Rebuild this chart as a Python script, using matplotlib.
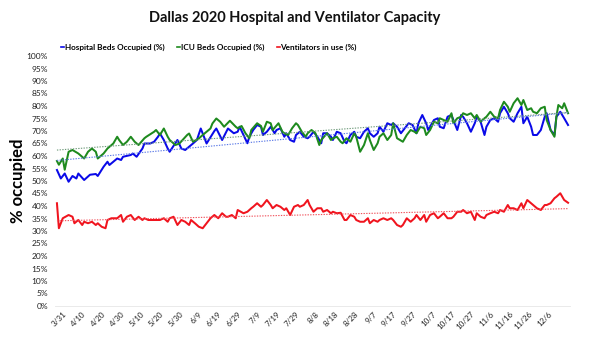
import datetime as dt
import numpy as np
import matplotlib
matplotlib.use("Agg")
import matplotlib.pyplot as plt

plt.rcParams["font.family"] = ["Lato", "DejaVu Sans"]

# ---------------- data ----------------
start_date = dt.date(2020, 3, 28)          # day 0 of the series
tick_first = dt.date(2020, 3, 31)
tick_step_days = 10
n_ticks = 26

title = "Dallas 2020 Hospital and Ventilator Capacity"
y_label = "% occupied"
series_names = ["Hospital Beds Occupied (%)", "ICU Beds Occupied (%)", "Ventilators in use (%)"]

hosp_day = [0, 2, 4, 6, 8, 10, 11, 14, 17, 20, 21, 24, 26, 27, 29, 31, 33, 34, 38, 39,
            41, 44, 45, 48, 50, 52, 53, 55, 57, 58, 62, 64, 66, 70, 72, 74, 75, 77, 81, 82,
            85, 88,
            91, 93, 94, 96, 98, 99, 101, 103, 105, 106, 108, 110, 112, 113, 115, 117, 118, 120, 122, 123,
            125, 127, 129, 130, 132, 134, 136, 137, 139, 141, 142, 144, 146, 148, 149, 151, 153, 154, 156, 158,
            160, 161, 163, 165, 166, 168, 170, 172, 173, 175,
            177, 181, 183, 185, 186, 188, 190, 191, 194, 196, 197, 199, 201, 203, 206, 208, 209, 211, 213, 215,
            216, 218, 220, 221, 223, 225, 227, 228, 230, 232, 233, 235, 237, 239, 240, 242, 244, 245, 247, 249,
            251, 252, 254, 256, 257, 259, 261, 263]
hosp_pct = [54.4, 51, 53, 49.7, 52, 51, 53, 50.4, 52.5, 52.8, 52, 55.7, 57.7, 56.4, 57.7, 59, 58.4, 59.7, 60.4, 61,
            59.7, 63, 65, 65, 65.7, 67.7, 69, 66.4, 63, 61.7, 66.4, 63, 62.4, 65, 66.4, 71, 69, 65, 70, 71,
            66.4, 71,
            69.1, 69.7, 71.7, 68.4, 65.1, 67.7, 70.4, 72.4, 71.7, 68.4, 69.7, 71.7, 69.1, 70.4, 71.1, 67.7, 69.1, 66.4, 65.7, 68.4,
            69.7, 67.7, 67.1, 67.7, 69.7, 67.7, 65.1, 69.1, 69.1, 67.7, 66.4, 69.7, 69.1, 65.7, 65.1, 68.4, 69.7, 67.7, 67.1, 69.7,
            71.1, 69.1, 67.7, 69.1, 71.7, 69.7, 73.1, 72.4, 73.1, 71.7,
            69.1, 73.1, 72.4, 69.1, 73.1, 76.4, 73.1, 70.4, 74.4, 75.1, 71.7, 71.1, 75.7, 76.4, 70.4, 76.4, 75.7, 73.1, 69.7, 73.1,
            75.7, 73.7, 68.4, 71.7, 74.4, 75.1, 73.7, 77.1, 79.7, 77.1, 75.1, 73.7, 77.1, 79.7, 73.1, 75.7, 71.7, 68.4, 68.4, 70.4,
            75.7, 77.1, 70.4, 68.4, 75.7, 77.7, 75.1, 72.4]

icu_day = [0, 1, 3, 4, 6, 8, 11, 14, 16, 18, 20, 21, 24, 26, 29, 31, 32, 34, 36, 38,
           40, 42, 45, 46, 50, 51, 53, 55, 57, 58, 61, 63, 67, 68, 70, 73, 75, 79, 80, 82,
           84, 86,
           89, 92, 93, 95, 97, 99, 100, 103, 105, 106, 108, 110, 111, 114, 116, 117, 119, 121, 123, 124,
           126, 128, 129, 131, 133, 135, 136, 139, 141, 142, 144, 146, 147, 149, 151, 153, 154, 156, 158, 160,
           161, 163, 165, 166, 168, 170, 172, 173, 175,
           178, 180, 182, 184, 185, 187, 189, 190, 192, 194, 196, 197, 199, 201, 203, 204, 206, 208, 209, 211,
           213, 215, 216, 218, 220, 221, 223, 225, 227, 228, 230, 232, 233, 235, 237, 239, 240, 242, 244, 245,
           247, 249, 251, 252, 254, 256, 257, 258, 260, 261, 263]
icu_pct = [58, 56.5, 59, 54.5, 61.7, 62.4, 61, 59, 61.7, 63, 61.7, 59, 61, 63, 65, 67.7, 66.4, 64.4, 65.7, 67.7,
           65.7, 64.4, 67.1, 67.7, 69.7, 70.4, 68.4, 71, 67.7, 66.4, 64.4, 65, 68.4, 69, 65.7, 67, 68.4, 71, 73, 75,
           73.7, 71.7,
           74.1, 71.7, 71.1, 72, 69.1, 67.1, 70.4, 73.1, 72, 69.7, 73.7, 73.1, 70.4, 73.1, 69.7, 69.1, 68.4, 71.1, 73.1, 72.4,
           69.7, 67.7, 69.1, 70.4, 69.1, 64.4, 66.4, 69.1, 66.4, 67.1, 67.7, 65.7, 65.1, 67.1, 65.7, 69.1, 67.7, 61.7, 64.4, 69.1,
           66.4, 62.4, 65.1, 67.7, 69.1, 66.4, 68.4, 73.1, 67.1,
           65.7, 68.4, 70.4, 69.7, 69.1, 71.7, 71.1, 68.4, 70.4, 73.7, 73.1, 75.1, 74.4, 73.7, 77.1, 73.1, 75.1, 75.7, 77.1, 76.4,
           77.1, 75.1, 76.4, 73.7, 75.1, 75.7, 77.7, 75.7, 75.1, 78.4, 81.7, 79.7, 77.7, 81.1, 83.1, 80.4, 82.4, 78.4, 79.1, 77.7,
           77.1, 79.1, 79.7, 74.4, 70.4, 67.7, 75.7, 80.4, 79.1, 81.1, 77.1]

vent_day = [0, 1, 3, 6, 8, 9, 11, 13, 14, 16, 18, 20, 21, 23, 25, 26, 28, 31, 33, 34,
            36, 38, 40, 42, 44, 45, 47, 49, 53, 55, 57, 58, 60, 62, 64, 66, 68, 69, 71, 73,
            75, 77, 79, 81, 83, 85, 87, 88, 90, 92, 93, 96, 98, 100, 101, 103, 105, 106, 108, 110,
            111, 113, 115, 117, 118, 120, 122, 124, 125, 127, 129, 130, 132, 134, 136,
            137, 139, 141, 142, 144, 146, 148, 149, 151, 153, 154, 156, 158, 160, 161, 163, 165, 166, 168, 170,
            172, 173, 175, 177, 178, 180, 182, 184, 185, 187, 189, 190, 192, 194, 196, 197, 199, 201, 203, 204,
            206, 208, 209, 211, 213, 215, 216, 218, 220, 221, 223, 225, 227, 228, 230, 232, 233, 235, 237, 239,
            240, 242, 244, 245, 247, 249, 251, 252, 254, 256, 257, 259, 261, 263]
vent_pct = [41.1, 31.1, 35.1, 36.4, 35.7, 33.1, 34.4, 32.4, 33.7, 33.1, 33.7, 32.4, 33.1, 31.7, 31.1, 34.4, 35.1, 35.1, 36.4, 33.7,
            35.7, 36.4, 34.4, 35.7, 34.4, 35.1, 34.4, 34.4, 34.4, 35.1, 33.7, 35.1, 35.7, 32.4, 34.4, 33.7, 32.4, 34.4, 33.1, 31.7,
            31.1, 33.1, 35.1, 36.4, 35.1, 37.1, 35.7, 35.7, 36.4, 35.1, 38.4, 37.1, 37.7, 39.1, 39.7, 41.1, 39.7, 40.4, 42.4, 40.4,
            39.1, 40.4, 39.7, 38.4, 39.1, 36.4, 39.7, 40.4, 39.7, 40.4, 42.4, 40.4, 37.7, 39.1, 39.1,
            37.7, 38.4, 37.1, 37.7, 37.1, 37.3, 34.4, 34.4, 36.4, 35.7, 34.4, 33.7, 33.7, 35.1, 33.1, 34.4, 33.7, 34.4, 35.1, 34.4,
            35.1, 34.4, 32.4, 31.7, 32.4, 35.1, 33.7, 35.1, 36.4, 34.4, 36.4, 33.7, 36.4, 37.1, 35.1, 35.7, 37.1, 35.1, 35.1, 35.7,
            37.7, 37.7, 38.4, 37.1, 37.7, 34.4, 37.1, 35.7, 35.1, 36.4, 37.1, 37.7, 37.1, 38.4, 37.7, 40.4, 39.1, 39.1, 38.4, 41.1,
            39.1, 42.4, 41.1, 40.4, 39.1, 38.4, 40.4, 40.4, 41.1, 43.1, 43.7, 45.1, 42.4, 41.3]

y_ticks = list(range(0, 101, 5))

# ---------------- style ----------------
line_colors = ["#0A0AE8", "#1E8A1E", "#F0141E"]
trend_colors = ["#5A78E6", "#6E9A7A", "#F0505A"]

fig = plt.figure(figsize=(5.9, 3.4), dpi=100)
ax = fig.add_axes([55 / 590, 1 - 306 / 340, (570 - 55) / 590, (306 - 56) / 340])

series = [(hosp_day, hosp_pct), (icu_day, icu_pct), (vent_day, vent_pct)]
for (d, p), name, c in zip(series, series_names, line_colors):
    ax.plot(d, p, color=c, lw=1.45, label=name, solid_joinstyle="round", zorder=3)

for (d, p), c in zip(series, trend_colors):
    d = np.asarray(d, float)
    k, b = np.polyfit(d, np.asarray(p, float), 1)
    xs = np.array([d.min(), d.max()])
    ax.plot(xs, k * xs + b, color=c, lw=0.8, ls=(0, (1.2, 1.2)), zorder=4)

ax.set_ylim(0, 100)
ax.set_xlim(-1, 264)
ax.set_yticks(y_ticks)
ax.set_yticklabels([f"{v}%" for v in y_ticks])

tick_dates = [tick_first + dt.timedelta(days=tick_step_days * i) for i in range(n_ticks)]
ax.set_xticks([(t - start_date).days for t in tick_dates])
ax.set_xticklabels([f"{t.month}/{t.day}" for t in tick_dates], rotation=45,
                   ha="right", va="top", rotation_mode="anchor")

ax.tick_params(axis="both", length=0, colors="#222222")
ax.tick_params(axis="y", pad=5, labelsize=6)
ax.tick_params(axis="x", pad=3, labelsize=5.8)
for s in ["top", "right", "left"]:
    ax.spines[s].set_visible(False)
ax.spines["bottom"].set_color("#E6E6E6")
ax.spines["bottom"].set_linewidth(0.6)

ax.set_ylabel(y_label, fontsize=12, fontweight="bold")
ax.yaxis.set_label_coords(-0.056, 0.5)

fig.text(0.5, 1 - 18 / 340, title, ha="center", va="center",
         fontsize=10.5, fontweight="bold", color="#111111")

leg = fig.legend(loc="center left", bbox_to_anchor=(54 / 590, 1 - 47 / 340), ncol=3,
                 frameon=False, handlelength=0.3, handletextpad=0.1,
                 columnspacing=1.6, prop={"weight": "bold", "size": 5.9})
for h in leg.get_lines():
    h.set_linewidth(1.2)

fig.savefig("out.png", dpi=100)
